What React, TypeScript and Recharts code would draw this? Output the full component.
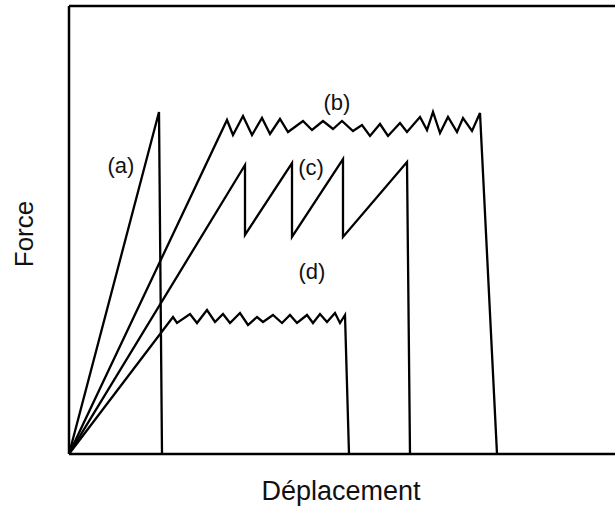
import { ComposedChart, Line, XAxis, YAxis, ReferenceLine, ReferenceDot } from "recharts";

// [déplacement, force]
const curveA: [number, number][] = [
  [0, 0], [90, 342], [93, 0],
];

const curveB: [number, number][] = [
  [0, 0], [158, 334], [164, 319], [174, 338], [183, 319], [193, 336], [201, 320],
  [211, 335], [219, 322], [234, 333], [243, 324], [254, 333], [264, 325], [273, 333],
  [284, 323], [293, 329], [301, 318], [311, 330], [319, 318], [331, 331], [338, 322],
  [351, 337], [358, 324], [364, 342], [371, 321], [379, 337], [388, 322], [394, 336],
  [403, 323], [411, 341], [428, 0],
];

const curveC: [number, number][] = [
  [0, 0], [176, 289], [176, 219], [223, 291], [223, 217], [274, 295], [274, 217],
  [338, 292], [341, 0],
];

const curveD: [number, number][] = [
  [0, 0], [104, 137], [108, 131], [121, 140], [128, 131], [138, 144], [146, 132],
  [154, 140], [161, 131], [171, 141], [179, 129], [188, 137], [194, 132], [204, 139],
  [213, 131], [221, 139], [228, 131], [238, 139], [244, 131], [251, 140], [258, 132],
  [266, 141], [271, 131], [276, 139], [280, 0],
];

const curveLabels: { text: string; x: number; y: number }[] = [
  { text: "(a)", x: 52, y: 289 },
  { text: "(b)", x: 268, y: 352 },
  { text: "(c)", x: 242, y: 287 },
  { text: "(d)", x: 243, y: 183 },
];

const xMax = 556;
const yMax = 448;

const toRows = (pts: [number, number][]) => pts.map(([x, y]) => ({ x, y }));

const font = "'Liberation Sans', Arial, Helvetica, sans-serif";

export default function App() {
  const series = [curveA, curveB, curveC, curveD];
  return (
    <div style={{ position: "absolute", left: 0, top: 0, width: 615, height: 506, overflow: "hidden", background: "#fff" }}>
      <ComposedChart
        width={625}
        height={506}
        margin={{ top: 6, right: 0, left: 0, bottom: 2 }}
      >
        <XAxis
          type="number"
          dataKey="x"
          domain={[0, xMax]}
          allowDataOverflow
          height={50}
          tick={false}
          tickLine={false}
          axisLine={{ stroke: "#000", strokeWidth: 2.5 }}
          label={{ value: "Déplacement", position: "insideBottom", offset: 4, dx: -6, fontSize: 27, fontFamily: font, fill: "#111" }}
        />
        <YAxis
          type="number"
          dataKey="y"
          domain={[0, yMax]}
          allowDataOverflow
          width={69}
          tick={false}
          tickLine={false}
          axisLine={{ stroke: "#000", strokeWidth: 2.5 }}
          label={{ value: "Force", angle: -90, position: "center", dx: -11, dy: 4, fontSize: 26, fontFamily: font, fill: "#111" }}
        />
        <ReferenceLine y={yMax} stroke="#000" strokeWidth={2.5} />
        {series.map((pts, i) => (
          <Line
            key={i}
            data={toRows(pts)}
            dataKey="y"
            type="linear"
            stroke="#000"
            strokeWidth={2.3}
            dot={false}
            activeDot={false}
            isAnimationActive={false}
          />
        ))}
        {curveLabels.map((l) => (
          <ReferenceDot
            key={l.text}
            x={l.x}
            y={l.y}
            r={0}
            fill="none"
            stroke="none"
            label={{ value: l.text, position: "center", fontSize: 22, fill: "#111", fontFamily: font }}
          />
        ))}
      </ComposedChart>
    </div>
  );
}
